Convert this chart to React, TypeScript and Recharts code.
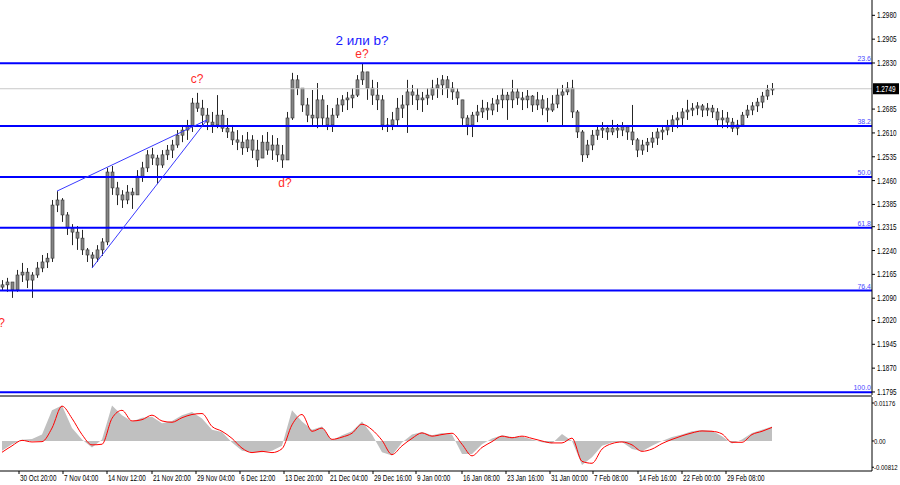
import React from 'react';
import { ComposedChart, Bar, Line, Area, XAxis, YAxis, ReferenceLine, ReferenceDot } from 'recharts';

// ---- price bars (H4 GBP/USD, one entry per sampled bar) ----
const highs = [
  1.2147, 1.2154, 1.2141, 1.2179, 1.2201, 1.2185, 1.2172, 1.2204, 1.2226, 1.2232,
  1.2399, 1.2427, 1.2405, 1.2361, 1.2323, 1.2317, 1.2305, 1.2248, 1.2235, 1.2257,
  1.2279, 1.2500, 1.2506, 1.2456, 1.2430, 1.2446, 1.2437, 1.2493, 1.2519, 1.2556,
  1.2563, 1.2541, 1.2556, 1.2572, 1.2588, 1.2619, 1.2635, 1.2651, 1.2720, 1.2736,
  1.2714, 1.2688, 1.2676, 1.2729, 1.2682, 1.2657, 1.2635, 1.2619, 1.2603, 1.2613,
  1.2603, 1.2588, 1.2603, 1.2613, 1.2603, 1.2594, 1.2572, 1.2676, 1.2799, 1.2792,
  1.2751, 1.2720, 1.2745, 1.2767, 1.2729, 1.2698, 1.2688, 1.2720, 1.2729, 1.2739,
  1.2751, 1.2792, 1.2830, 1.2802, 1.2777, 1.2770, 1.2729, 1.2657, 1.2676, 1.2720,
  1.2729, 1.2777, 1.2761, 1.2751, 1.2739, 1.2751, 1.2777, 1.2783, 1.2792, 1.2789,
  1.2770, 1.2751, 1.2714, 1.2666, 1.2676, 1.2698, 1.2714, 1.2707, 1.2720, 1.2729,
  1.2751, 1.2739, 1.2777, 1.2751, 1.2739, 1.2745, 1.2729, 1.2739, 1.2729, 1.2720,
  1.2729, 1.2751, 1.2761, 1.2770, 1.2777, 1.2682, 1.2619, 1.2588, 1.2619, 1.2635,
  1.2644, 1.2635, 1.2651, 1.2638, 1.2644, 1.2635, 1.2698, 1.2594, 1.2588, 1.2594,
  1.2613, 1.2625, 1.2635, 1.2651, 1.2666, 1.2676, 1.2688, 1.2714, 1.2704, 1.2707,
  1.2701, 1.2704, 1.2698, 1.2688, 1.2682, 1.2676, 1.2657, 1.2651, 1.2676, 1.2698,
  1.2707, 1.2720, 1.2739, 1.2761, 1.2767,
];
const lows = [
  1.2116, 1.2110, 1.2091, 1.2110, 1.2141, 1.2122, 1.2091, 1.2154, 1.2172, 1.2185,
  1.2204, 1.2361, 1.2330, 1.2289, 1.2257, 1.2242, 1.2226, 1.2204, 1.2185, 1.2204,
  1.2223, 1.2257, 1.2415, 1.2383, 1.2374, 1.2386, 1.2371, 1.2415, 1.2456, 1.2487,
  1.2509, 1.2449, 1.2500, 1.2525, 1.2531, 1.2563, 1.2581, 1.2588, 1.2613, 1.2676,
  1.2635, 1.2619, 1.2610, 1.2625, 1.2613, 1.2594, 1.2572, 1.2556, 1.2541, 1.2550,
  1.2531, 1.2503, 1.2531, 1.2541, 1.2525, 1.2519, 1.2500, 1.2525, 1.2651, 1.2729,
  1.2676, 1.2644, 1.2635, 1.2625, 1.2635, 1.2619, 1.2613, 1.2657, 1.2676, 1.2682,
  1.2688, 1.2723, 1.2761, 1.2714, 1.2698, 1.2682, 1.2619, 1.2613, 1.2619, 1.2635,
  1.2657, 1.2610, 1.2698, 1.2682, 1.2676, 1.2698, 1.2714, 1.2720, 1.2729, 1.2720,
  1.2714, 1.2698, 1.2635, 1.2603, 1.2597, 1.2644, 1.2657, 1.2651, 1.2666, 1.2676,
  1.2688, 1.2651, 1.2688, 1.2698, 1.2682, 1.2688, 1.2676, 1.2682, 1.2666, 1.2644,
  1.2676, 1.2688, 1.2629, 1.2729, 1.2657, 1.2594, 1.2519, 1.2531, 1.2556, 1.2588,
  1.2594, 1.2588, 1.2603, 1.2594, 1.2600, 1.2588, 1.2572, 1.2534, 1.2541, 1.2550,
  1.2563, 1.2572, 1.2588, 1.2603, 1.2613, 1.2625, 1.2635, 1.2651, 1.2663, 1.2666,
  1.2660, 1.2663, 1.2657, 1.2635, 1.2625, 1.2625, 1.2613, 1.2603, 1.2635, 1.2657,
  1.2666, 1.2676, 1.2688, 1.2714, 1.2729,
];
const closes = [
  1.2132, 1.2141, 1.2116, 1.2163, 1.2172, 1.2147, 1.2163, 1.2185, 1.2204, 1.2216,
  1.2383, 1.2399, 1.2352, 1.2311, 1.2298, 1.2279, 1.2242, 1.2226, 1.2216, 1.2242,
  1.2267, 1.2487, 1.2437, 1.2415, 1.2399, 1.2424, 1.2415, 1.2474, 1.2500, 1.2541,
  1.2531, 1.2509, 1.2541, 1.2556, 1.2572, 1.2603, 1.2619, 1.2632, 1.2704, 1.2688,
  1.2666, 1.2644, 1.2635, 1.2666, 1.2625, 1.2613, 1.2588, 1.2581, 1.2563, 1.2588,
  1.2556, 1.2525, 1.2581, 1.2556, 1.2572, 1.2541, 1.2525, 1.2657, 1.2777, 1.2751,
  1.2698, 1.2666, 1.2657, 1.2714, 1.2657, 1.2635, 1.2666, 1.2698, 1.2714, 1.2720,
  1.2729, 1.2777, 1.2802, 1.2751, 1.2729, 1.2714, 1.2635, 1.2635, 1.2651, 1.2688,
  1.2698, 1.2739, 1.2729, 1.2714, 1.2720, 1.2729, 1.2751, 1.2761, 1.2777, 1.2751,
  1.2739, 1.2720, 1.2657, 1.2635, 1.2666, 1.2676, 1.2688, 1.2682, 1.2701, 1.2714,
  1.2729, 1.2714, 1.2739, 1.2720, 1.2714, 1.2726, 1.2698, 1.2714, 1.2688, 1.2682,
  1.2701, 1.2729, 1.2739, 1.2751, 1.2676, 1.2613, 1.2541, 1.2572, 1.2603, 1.2619,
  1.2625, 1.2613, 1.2625, 1.2619, 1.2629, 1.2613, 1.2588, 1.2556, 1.2572, 1.2581,
  1.2594, 1.2613, 1.2619, 1.2632, 1.2651, 1.2657, 1.2676, 1.2682, 1.2688, 1.2695,
  1.2682, 1.2688, 1.2676, 1.2651, 1.2657, 1.2644, 1.2625, 1.2635, 1.2666, 1.2682,
  1.2695, 1.2707, 1.2726, 1.2745, 1.2749,
];
const firstOpen = 1.2125;

// ---- MACD (sampled every 2 bars) ----
const macdStep = 2;
const macdHist = [
  -0.0030, -0.0010, 0.0004, 0.0006, 0.0020, 0.0095, 0.0110, 0.0040, 0.0005, -0.0020,
  0.0005, 0.0110, 0.0080, 0.0060, 0.0072, 0.0075, 0.0055, 0.0062, 0.0080, 0.0090,
  0.0070, 0.0035, 0.0028, -0.0005, -0.0030, -0.0035, -0.0035, -0.0030, -0.0015, 0.0095,
  0.0060, 0.0035, 0.0045, 0.0002, 0.0018, 0.0030, 0.0060, 0.0020, -0.0035, -0.0045,
  -0.0005, 0.0020, 0.0028, 0.0018, 0.0025, 0.0020, -0.0040, -0.0040, -0.0010, 0.0008,
  0.0018, 0.0012, 0.0014, 0.0005, -0.0004, -0.0008, 0.0022, 0.0000, -0.0074, -0.0050,
  -0.0015, -0.0005, -0.0003, -0.0025, -0.0032, -0.0015, 0.0000, 0.0012, 0.0020, 0.0030,
  0.0034, 0.0032, 0.0015, -0.0008, 0.0005, 0.0025, 0.0035, 0.0045,
];
const macdSignal = [
  -0.0035, -0.0015, 0.0002, -0.0003, -0.0002, 0.0040, 0.0108, 0.0070, 0.0020, -0.0012,
  -0.0010, 0.0070, 0.0095, 0.0062, 0.0066, 0.0080, 0.0062, 0.0058, 0.0072, 0.0082,
  0.0085, 0.0045, 0.0030, 0.0008, -0.0022, -0.0036, -0.0032, -0.0036, -0.0024, 0.0050,
  0.0082, 0.0030, 0.0040, 0.0005, 0.0012, 0.0024, 0.0052, 0.0035, 0.0002, -0.0042,
  -0.0015, 0.0008, 0.0025, 0.0015, 0.0020, 0.0024, -0.0010, -0.0046, -0.0020, -0.0002,
  0.0015, 0.0010, 0.0015, 0.0008, 0.0000, -0.0006, -0.0006, 0.0009, -0.0063, -0.0069,
  -0.0025, -0.0008, -0.0003, -0.0012, -0.0032, -0.0025, -0.0008, 0.0005, 0.0016, 0.0025,
  0.0031, 0.0030, 0.0022, -0.0004, -0.0004, 0.0020, 0.0030, 0.0042,
];

// ---- axes ----
const priceTicks = [1.298, 1.2905, 1.283, 1.2685, 1.261, 1.2535, 1.246, 1.2385, 1.2315, 1.224, 1.2165, 1.209, 1.202, 1.1945, 1.187, 1.1795];
const macdTicks = [0.01176, 0, -0.00812];
const macdTickLabels = ['0.01176', '0.00', '-0.00812'];
const timeLabels = ['30 Oct 20:00', '7 Nov 04:00', '14 Nov 12:00', '21 Nov 20:00', '29 Nov 04:00', '6 Dec 12:00', '13 Dec 20:00', '21 Dec 04:00', '29 Dec 16:00', '9 Jan 00:00', '16 Jan 08:00', '23 Jan 16:00', '31 Jan 00:00', '7 Feb 08:00', '14 Feb 16:00', '22 Feb 00:00', '29 Feb 08:00'];
const timeLabelBars = [3.4, 12.2, 21, 30, 38.8, 47.6, 56.4, 65.4, 74.2, 82.8, 92, 100.8, 109.6, 118.2, 127.2, 136, 144.8];
const xDomain = [-0.4, 174];
const priceDomain = [1.17855, 1.30282];
const macdDomain = [-0.00929, 0.01362];

// ---- annotations ----
const fibLevels = [1.2829, 1.2632, 1.2471, 1.2312, 1.2114, 1.1794];
const fibNames = ['23.6', '38.2', '50.0', '61.8', '76.4', '100.0'];
const lastPrice = 1.2749;
const lastPriceText = '1.2749';
const wedgeUpper = [{ x: 11, y: 1.2427 }, { x: 41, y: 1.2651 }];
const wedgeLower = [{ x: 18, y: 1.2185 }, { x: 41, y: 1.2651 }];
const waveTexts = ['2 или b?', 'e?', 'c?', 'd?', '?'];
const waveBars = [72, 72, 39, 56.6, -0.1];
const wavePrices = [1.2900, 1.2858, 1.2780, 1.2452, 1.2012];
const waveColors = ['#1a1aff', '#ff2a2a', '#ff2a2a', '#ff2a2a', '#ff2a2a'];
const waveSizes = [13.5, 12, 12, 12, 12];

const FONT = '"Liberation Sans", Arial, sans-serif';
const SQUEEZE = 0.75;

const candles = highs.map((h, i) => {
  const open = i === 0 ? firstOpen : closes[i - 1];
  return { idx: i, range: [lows[i], h], high: h, low: lows[i], open, close: closes[i] };
});
const macdData = macdHist.map((v, k) => ({ idx: k * macdStep, hist: v, signal: macdSignal[k] }));

const NarrowText = ({ x, y, dy, text, fill = '#000', size = 8.5, anchor = 'start' }: any) => (
  <text
    transform={`translate(${x},${y}) scale(${SQUEEZE},1)`}
    x={0}
    y={0}
    dy={dy}
    textAnchor={anchor}
    fontSize={size}
    fill={fill}
    fontFamily={FONT}
  >
    {text}
  </text>
);

const CandleShape = (props: any) => {
  const { x, y, width, height, payload } = props;
  if (x == null || y == null || height == null) return null;
  const top = Math.min(y, y + height);
  const h = Math.abs(height);
  const { high, low, open, close } = payload;
  const span = high - low || 1e-9;
  const clamp = (v: number) => Math.max(low, Math.min(high, v));
  const bTop = top + ((high - clamp(Math.max(open, close))) / span) * h;
  const bBot = top + ((high - clamp(Math.min(open, close))) / span) * h;
  const cx = Math.round(x + width / 2) + 0.5;
  return (
    <g>
      <line x1={cx} x2={cx} y1={top} y2={top + h} stroke="#262626" strokeWidth={1} />
      <rect x={cx - 1.5} y={bTop} width={3} height={Math.max(1, bBot - bTop)} fill="#858585" stroke="#333" strokeWidth={0.6} />
    </g>
  );
};

const FibLabel = (props: any) => {
  const { viewBox, text } = props;
  if (!viewBox) return null;
  return (
    <text x={viewBox.x + viewBox.width - 1} y={viewBox.y - 2} textAnchor="end" fontSize={7} fill="#4a4aff" fontFamily={FONT}>
      {text}
    </text>
  );
};

const PriceTag = (props: any) => {
  const { viewBox } = props;
  if (!viewBox) return null;
  const x = viewBox.x + viewBox.width + 1;
  return (
    <g>
      <rect x={x} y={viewBox.y - 5.5} width={26} height={11} fill="#000" />
      <NarrowText x={x + 3} y={viewBox.y} dy="0.35em" text={lastPriceText} fill="#fff" />
    </g>
  );
};

const WaveLabel = (props: any) => {
  const { viewBox, text, color, size } = props;
  if (!viewBox) return null;
  return (
    <text x={viewBox.x + viewBox.width / 2} y={viewBox.y + viewBox.height / 2} textAnchor="middle" dominantBaseline="central" fontSize={size} fill={color} fontFamily={FONT}>
      {text}
    </text>
  );
};

const TimeTick = (props: any) => {
  const { x, y, payload } = props;
  const k = timeLabelBars.indexOf(payload.value);
  return <NarrowText x={x + 1} y={y - 1} dy="0.71em" text={timeLabels[k]} />;
};

const PriceTick = (props: any) => {
  const { x, y, payload } = props;
  return <NarrowText x={x} y={y} dy="0.35em" text={Number(payload.value).toFixed(4)} />;
};

const MacdTick = (props: any) => {
  const { x, y, payload } = props;
  return <NarrowText x={x - 2} y={y} dy="0.35em" size={8} text={macdTickLabels[macdTicks.indexOf(payload.value)]} />;
};

export default function App() {
  return (
    <div style={{ position: 'absolute', left: 0, top: 0, width: 900, height: 485, background: '#fff', overflow: 'hidden' }}>
      <style>{`svg.recharts-surface{overflow:visible}`}</style>
      <div style={{ position: 'absolute', left: 0, top: 0 }}>
        <ComposedChart width={900} height={395} data={candles} margin={{ top: 0, right: 0, bottom: 0, left: 0 }}>
          <XAxis dataKey="idx" type="number" domain={xDomain} hide allowDataOverflow />
          <YAxis
            orientation="right"
            width={28}
            domain={priceDomain}
            ticks={priceTicks}
            interval={0}
            allowDataOverflow
            tickSize={3}
            tickLine={{ stroke: '#000' }}
            axisLine={{ stroke: '#000' }}
            tick={<PriceTick />}
          />
          <ReferenceLine y={lastPrice} stroke="#c8c8c8" strokeWidth={1} label={<PriceTag />} />
          {fibLevels.map((lv, i) => (
            <ReferenceLine key={fibNames[i]} y={lv} stroke="#0000ff" strokeWidth={2} ifOverflow="extendDomain" label={<FibLabel text={fibNames[i]} />} />
          ))}
          <Bar dataKey="range" barSize={3} shape={<CandleShape />} isAnimationActive={false} />
          <ReferenceLine segment={wedgeUpper} stroke="#3a3aff" strokeWidth={1} />
          <ReferenceLine segment={wedgeLower} stroke="#3a3aff" strokeWidth={1} />
          {waveTexts.map((t, i) => (
            <ReferenceDot
              key={t + i}
              x={waveBars[i]}
              y={wavePrices[i]}
              r={0}
              fill="none"
              stroke="none"
              ifOverflow="visible"
              label={<WaveLabel text={t} color={waveColors[i]} size={waveSizes[i]} />}
            />
          ))}
        </ComposedChart>
      </div>
      <div style={{ position: 'absolute', left: 0, top: 395, width: 872, height: 2, background: '#7a7a7a' }} />
      <div style={{ position: 'absolute', left: 0, top: 396 }}>
        <ComposedChart width={900} height={89} data={macdData} margin={{ top: 1, right: 0, bottom: 0, left: 0 }}>
          <XAxis
            dataKey="idx"
            type="number"
            domain={xDomain}
            allowDataOverflow
            ticks={timeLabelBars}
            interval={0}
            height={14}
            tickSize={3}
            tickLine={{ stroke: '#000' }}
            axisLine={{ stroke: '#000' }}
            tick={<TimeTick />}
          />
          <YAxis
            orientation="right"
            width={28}
            domain={macdDomain}
            ticks={macdTicks}
            interval={0}
            allowDataOverflow
            tickSize={2}
            tickLine={{ stroke: '#000' }}
            axisLine={{ stroke: '#000' }}
            tick={<MacdTick />}
          />
          <Area dataKey="hist" type="linear" baseValue={0} fill="#c0c0c0" fillOpacity={1} stroke="none" isAnimationActive={false} />
          <Line dataKey="signal" type="monotone" stroke="#ff0000" strokeWidth={1} dot={false} isAnimationActive={false} />
        </ComposedChart>
      </div>
    </div>
  );
}
